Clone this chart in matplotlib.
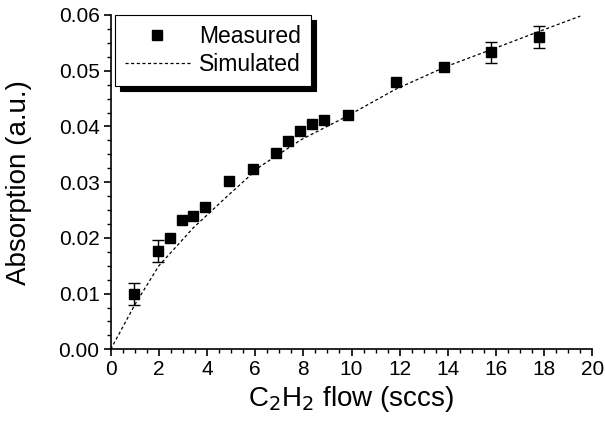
import numpy as np
import matplotlib.pyplot as plt

plt.rcParams['font.family'] = ['Liberation Sans', 'DejaVu Sans']

# measured points
flow = [0.97, 1.95, 2.45, 2.95, 3.43, 3.92, 4.91, 5.90, 6.88, 7.38, 7.86,
        8.37, 8.86, 9.84, 11.85, 13.86, 15.80, 17.80]
absorb = [0.0099, 0.0177, 0.0200, 0.0232, 0.0240, 0.0256, 0.0302, 0.0323,
          0.0352, 0.0373, 0.0392, 0.0404, 0.0412, 0.0420, 0.0480, 0.0507,
          0.0533, 0.0561]
err = [0.0020, 0.0020, 0, 0, 0, 0, 0, 0, 0, 0, 0, 0, 0, 0, 0, 0, 0.0019, 0.0020]

# simulated curve
sim_x = [0, 1.0, 2.0, 3.43, 4.82, 6.2, 7.9, 9.8, 11.8, 13.9, 15.75, 17.7, 19.5]
sim_y = [0, 0.0080, 0.0150, 0.0218, 0.0274, 0.0328, 0.0376, 0.0418, 0.0466,
         0.0507, 0.0537, 0.0569, 0.0598]

fig = plt.figure(figsize=(6.05, 4.32), dpi=100)
ax = fig.add_axes([0.183, 0.1914, 0.796, 0.7739])

x = np.array(flow)
y = np.array(absorb)
e = np.array(err)
m = e > 0
ax.errorbar(x[m], y[m], yerr=e[m], fmt='none', ecolor='k', elinewidth=1,
            capsize=4, capthick=1, zorder=2)
ax.plot(x, y, 's', color='k', markersize=7.8, label='Measured', zorder=3)
ax.plot(sim_x, sim_y, color='k', lw=0.9, linestyle=(0, (2.5, 2)),
        label='Simulated', zorder=1)

ax.set_xlim(0, 20)
ax.set_ylim(0, 0.06)
ax.set_xticks(np.arange(0, 21, 2))
ax.set_xticks(np.arange(0, 20.1, 0.5), minor=True)
ax.set_yticks(np.arange(0, 0.061, 0.01))
ax.set_yticks(np.arange(0, 0.0601, 0.0025), minor=True)
ax.yaxis.set_major_formatter(plt.FormatStrFormatter('%.2f'))

for s in ['top', 'right']:
    ax.spines[s].set_visible(False)
for s in ['left', 'bottom']:
    ax.spines[s].set_linewidth(1.2)
ax.tick_params(which='major', direction='out', length=5, width=1.2,
               labelsize=15, pad=3)
ax.tick_params(which='minor', direction='out', length=3, width=1)

ax.set_xlabel('C$_2$H$_2$ flow (sccs)', fontsize=20)
ax.set_ylabel('Absorption (a.u.)', fontsize=20)
ax.xaxis.set_label_coords(0.5, -0.105)
ax.yaxis.set_label_coords(-0.163, 0.5)

leg = ax.legend(loc='upper left', bbox_to_anchor=(0.009, 1.0),
                borderaxespad=0, fontsize=16.5, numpoints=1, handlelength=2.8,
                fancybox=False, framealpha=1, edgecolor='k',
                shadow={'ox': 3.5, 'oy': -3.5, 'facecolor': 'k',
                        'edgecolor': 'k', 'alpha': 1},
                labelspacing=0.2, borderpad=0.45, handletextpad=0.4)
leg.get_frame().set_linewidth(0.8)

fig.savefig('out.png', dpi=100)
